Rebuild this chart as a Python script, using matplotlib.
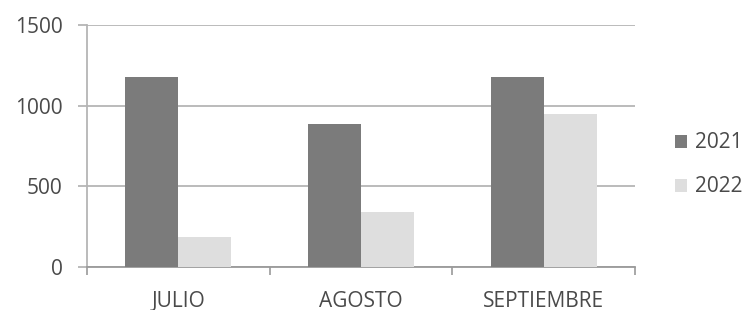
import numpy as np
import matplotlib.pyplot as plt

months = ["JULIO", "AGOSTO", "SEPTIEMBRE"]
v2021 = [1180, 885, 1180]
v2022 = [185, 340, 950]

plt.rcParams['font.family'] = ['Open Sans', 'DejaVu Sans']

fig = plt.figure(figsize=(7.48, 3.10), dpi=100)
ax = fig.add_axes([0.116, 0.139, 0.733, 0.780])

x = np.arange(len(months))
w = 0.29
ax.bar(x - w/2, v2021, w, color='#7b7b7b', label='2021', zorder=3)
ax.bar(x + w/2, v2022, w, color='#dedede', label='2022', zorder=3)

ax.set_xlim(-0.5, 2.5)
ax.set_ylim(0, 1500)
ax.set_yticks([0, 500, 1000, 1500])
ax.yaxis.grid(True, color='#b5b5b5', linewidth=1.3, zorder=0)
ax.set_xticks(x)
ax.set_xticklabels(months)
ax.set_xticks([-0.5, 0.5, 1.5, 2.5], minor=True)
ax.tick_params(axis='x', which='major', length=0, pad=17, labelsize=15, labelcolor='#4a4a4a')
ax.tick_params(axis='x', which='minor', length=6, color='#9a9a9a', width=1.2)
ax.tick_params(axis='y', length=6.5, color='#b5b5b5', width=1.3, labelsize=15, labelcolor='#4a4a4a', pad=11)

for s in ['top', 'right']:
    ax.spines[s].set_visible(False)
ax.spines['left'].set_color('#b5b5b5')
ax.spines['left'].set_linewidth(1.3)
ax.spines['bottom'].set_color('#9a9a9a')
ax.spines['bottom'].set_linewidth(1.3)

handles, labels = ax.get_legend_handles_labels()
fig.legend(handles, labels, loc='center left', bbox_to_anchor=(0.902, 0.468),
           frameon=False, borderpad=0, borderaxespad=0,
           handlelength=0.58, handleheight=0.58, handletextpad=0.4,
           labelspacing=1.1, fontsize=15, labelcolor='#4a4a4a')

fig.savefig("out.png", dpi=100)
